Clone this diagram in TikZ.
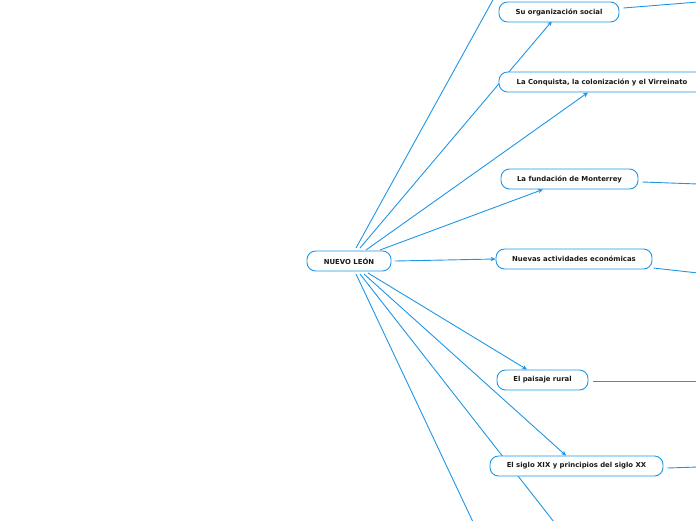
\documentclass[tikz,border=0pt]{standalone}
\usepackage{fontspec}
\setmainfont{DejaVu Sans}
\usetikzlibrary{arrows.meta,calc}
\definecolor{mblue}{RGB}{30,150,230}
\definecolor{mtext}{RGB}{25,25,25}
\tikzset{
  topic/.style={draw=mblue, line width=0.9pt, fill=white, rounded corners=8.5pt,
    minimum height=20pt, inner sep=0pt, text=mtext,
    font=\fontsize{6.9}{8}\selectfont\bfseries},
  link/.style={draw=mblue, line width=0.9pt},
  arr/.style={link, -{Stealth[length=5pt,width=4.5pt]}},
}
\begin{document}
\begin{tikzpicture}[x=1pt,y=-1pt]
\useasboundingbox (0,0) rectangle (696,520);
\clip (0,0) rectangle (696,520);
% off-page endpoints
\coordinate (e1) at (494,-2);
\coordinate (e9) at (554,522);
\coordinate (e10) at (473,522);
\coordinate (r1) at (698,2);
\coordinate (r4) at (698,184);
\coordinate (r5) at (698,273);
\coordinate (r6) at (698,381);
\coordinate (r7) at (698,467);
% start points around the centre
\coordinate (s1) at (356,248);
\coordinate (s2) at (360,248);
\coordinate (s3) at (366,250);
\coordinate (s4) at (380,250);
\coordinate (s5) at (395,261);
\coordinate (s7) at (368,273);
\coordinate (s8) at (364,274);
\coordinate (s9) at (360,274);
\coordinate (s10) at (356,274);
% lines behind boxes
\draw[link] (s1) -- (e1);
\draw[link] (s9) -- (e9);
\draw[link] (s10) -- (e10);
\draw[arr] (s2) -- (552,21) coordinate (t2);
% nodes
\node[topic, minimum width=84pt] (nl) at (349,261) {NUEVO LEÓN};
\node[topic, minimum width=120pt] (so) at (559,12) {Su organización social};
\node[topic, minimum width=206pt] (cq) at (602,82) {La Conquista, la colonización y el Virreinato};
\node[topic, minimum width=137pt] (fu) at (569.5,179) {La fundación de Monterrey};
\node[topic, minimum width=156pt] (nu) at (574,259) {Nuevas actividades económicas};
\node[topic, minimum width=91pt] (pa) at (542.5,380) {El paisaje rural};
\node[topic, minimum width=173pt] (si) at (576.5,466) {El siglo XIX y principios del siglo XX};
% arrows from centre
\draw[arr] (s3) -- (cq.south -| 588,0);
\draw[arr] (s4) -- (fu.south -| 543,0);
\draw[arr] (s5) -- (nu.west);
\draw[arr] (s7) -- (pa.north -| 527,0);
\draw[arr] (s8) -- (si.north -| 566,0);
% lines to the right edge
\draw[link] ($(so.east)+(4,-4)$) -- (r1);
\draw[link] ($(fu.east)+(4,3)$) -- (r4);
\draw[link] ($(nu.east)+(1,9)$) -- (r5);
\draw[link] ($(pa.east)+(5,1)$) -- (r6);
\draw[link] ($(si.east)+(4,2)$) -- (r7);
\end{tikzpicture}
\end{document}
